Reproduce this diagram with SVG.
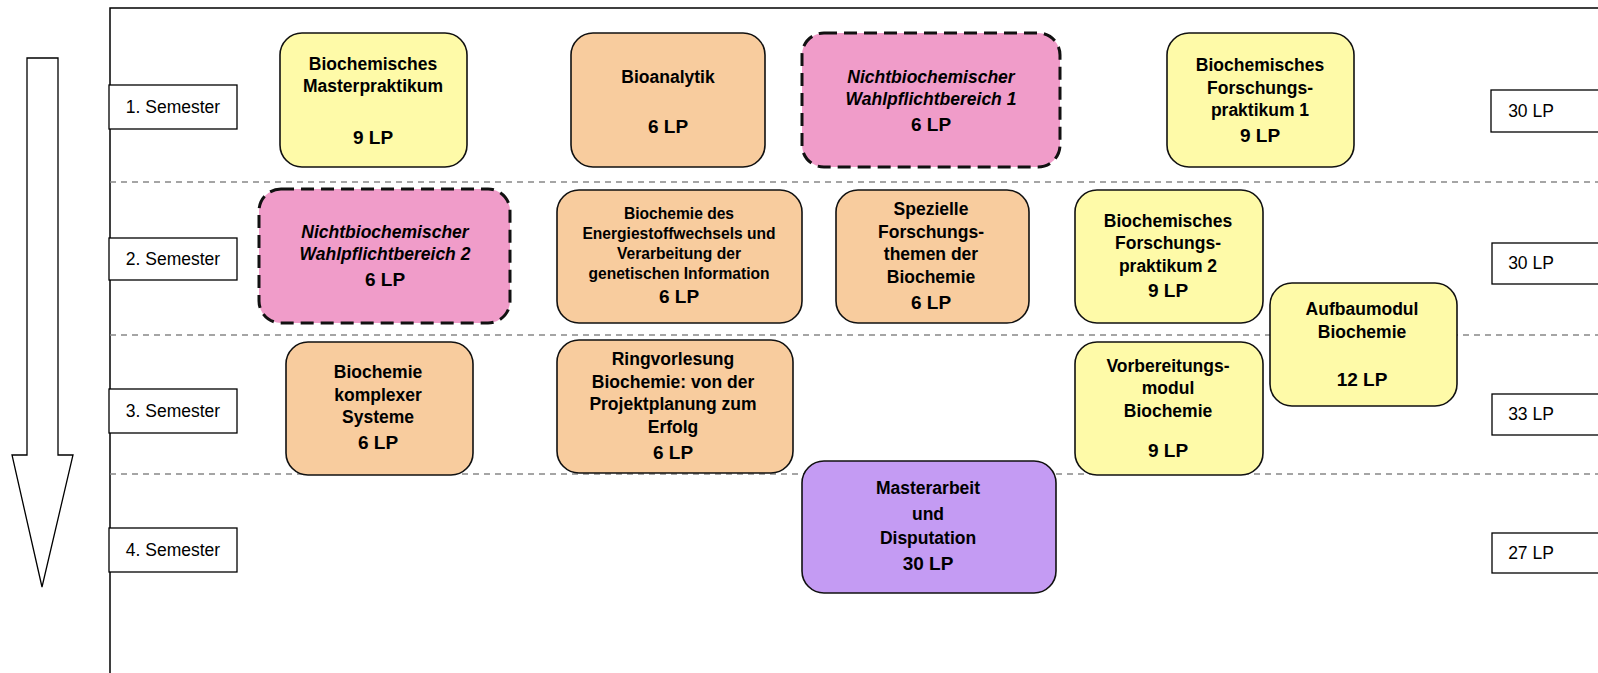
<svg xmlns="http://www.w3.org/2000/svg" width="1598" height="673" viewBox="0 0 1598 673">
<style>
text{font-family:"Liberation Sans",Arial,sans-serif;fill:#000;text-anchor:middle}
.t{font-size:17.5px;font-weight:bold}
.s{font-size:15.6px;font-weight:bold}
.lp{font-size:19px;font-weight:bold}
.i{font-style:italic}
.lbl{font-size:17.5px}
.box{stroke:#111;stroke-width:1.6}
.dbox{stroke:#111;stroke-width:3;stroke-dasharray:13 7}
.y{fill:#FEFAA8}
.o{fill:#F8CC9E}
.p{fill:#F09CC9}
.v{fill:#C49BF3}
.sep{stroke:#888;stroke-width:1.3;stroke-dasharray:6 5}
.frm{fill:#fff;stroke:#000;stroke-width:1.3}
</style>
<rect width="1598" height="673" fill="#fff"/>
<g id="frame">
<path d="M110 673 V8 H1598" fill="none" stroke="#000" stroke-width="1.5"/>
<polygon points="27,58 58,58 58,455 73,455 42,587 12,455 27,455" fill="#fff" stroke="#000" stroke-width="1.3"/>
</g>
<g id="separators">
<line class="sep" x1="110" y1="182" x2="1598" y2="182"/>
<line class="sep" x1="110" y1="335" x2="1598" y2="335"/>
<line class="sep" x1="110" y1="474" x2="1598" y2="474"/>
</g>
<g id="semester-labels">
<g id="sem1"><rect class="frm" x="109" y="85" width="128" height="44"/><text class="lbl" x="173" y="113">1. Semester</text></g>
<g id="sem2"><rect class="frm" x="109" y="238" width="128" height="42"/><text class="lbl" x="173" y="265">2. Semester</text></g>
<g id="sem3"><rect class="frm" x="109" y="389" width="128" height="44"/><text class="lbl" x="173" y="417">3. Semester</text></g>
<g id="sem4"><rect class="frm" x="109" y="528" width="128" height="44"/><text class="lbl" x="173" y="556">4. Semester</text></g>
</g>
<g id="lp-labels">
<g id="lp1"><rect class="frm" x="1491" y="90" width="120" height="42"/><text class="lbl" x="1531" y="117">30 LP</text></g>
<g id="lp2"><rect class="frm" x="1492" y="243" width="120" height="41"/><text class="lbl" x="1531" y="269">30 LP</text></g>
<g id="lp3"><rect class="frm" x="1492" y="394" width="120" height="41"/><text class="lbl" x="1531" y="420">33 LP</text></g>
<g id="lp4"><rect class="frm" x="1492" y="533" width="120" height="40"/><text class="lbl" x="1531" y="559">27 LP</text></g>
</g>
<g id="connectors"></g>
<g id="n-masterpraktikum">
<rect class="box y" x="280" y="33" width="187" height="134" rx="22"/>
<text class="t" x="373" y="70">Biochemisches</text>
<text class="t" x="373" y="92">Masterpraktikum</text>
<text class="lp" x="373" y="144">9 LP</text>
</g>
<g id="n-bioanalytik">
<rect class="box o" x="571" y="33" width="194" height="134" rx="22"/>
<text class="t" x="668" y="83">Bioanalytik</text>
<text class="lp" x="668" y="133">6 LP</text>
</g>
<g id="n-wpb1">
<rect class="dbox p" x="802" y="33" width="258" height="134" rx="22"/>
<text class="t i" x="931" y="83">Nichtbiochemischer</text>
<text class="t i" x="931" y="105">Wahlpflichtbereich 1</text>
<text class="lp" x="931" y="131">6 LP</text>
</g>
<g id="n-forschungspraktikum1">
<rect class="box y" x="1167" y="33" width="187" height="134" rx="22"/>
<text class="t" x="1260" y="71">Biochemisches</text>
<text class="t" x="1260" y="94">Forschungs-</text>
<text class="t" x="1260" y="116">praktikum 1</text>
<text class="lp" x="1260" y="142">9 LP</text>
</g>
<g id="n-wpb2">
<rect class="dbox p" x="259" y="189" width="251" height="134" rx="22"/>
<text class="t i" x="385" y="238">Nichtbiochemischer</text>
<text class="t i" x="385" y="260">Wahlpflichtbereich 2</text>
<text class="lp" x="385" y="286">6 LP</text>
</g>
<g id="n-energiestoffwechsel">
<rect class="box o" x="557" y="190" width="245" height="133" rx="22"/>
<text class="s" x="679" y="219">Biochemie des</text>
<text class="s" x="679" y="239">Energiestoffwechsels und</text>
<text class="s" x="679" y="259">Verarbeitung der</text>
<text class="s" x="679" y="279">genetischen Information</text>
<text class="lp" x="679" y="303">6 LP</text>
</g>
<g id="n-spezielle">
<rect class="box o" x="836" y="190" width="193" height="133" rx="22"/>
<text class="t" x="931" y="215">Spezielle</text>
<text class="t" x="931" y="238">Forschungs-</text>
<text class="t" x="931" y="260">themen der</text>
<text class="t" x="931" y="283">Biochemie</text>
<text class="lp" x="931" y="309">6 LP</text>
</g>
<g id="n-forschungspraktikum2">
<rect class="box y" x="1075" y="190" width="188" height="133" rx="22"/>
<text class="t" x="1168" y="227">Biochemisches</text>
<text class="t" x="1168" y="249">Forschungs-</text>
<text class="t" x="1168" y="272">praktikum 2</text>
<text class="lp" x="1168" y="297">9 LP</text>
</g>
<g id="n-aufbaumodul">
<rect class="box y" x="1270" y="283" width="187" height="123" rx="22"/>
<text class="t" x="1362" y="315">Aufbaumodul</text>
<text class="t" x="1362" y="338">Biochemie</text>
<text class="lp" x="1362" y="386">12 LP</text>
</g>
<g id="n-komplexe-systeme">
<rect class="box o" x="286" y="342" width="187" height="133" rx="22"/>
<text class="t" x="378" y="378">Biochemie</text>
<text class="t" x="378" y="401">komplexer</text>
<text class="t" x="378" y="423">Systeme</text>
<text class="lp" x="378" y="449">6 LP</text>
</g>
<g id="n-ringvorlesung">
<rect class="box o" x="557" y="340" width="236" height="133" rx="22"/>
<text class="t" x="673" y="365">Ringvorlesung</text>
<text class="t" x="673" y="388">Biochemie: von der</text>
<text class="t" x="673" y="410">Projektplanung zum</text>
<text class="t" x="673" y="433">Erfolg</text>
<text class="lp" x="673" y="459">6 LP</text>
</g>
<g id="n-vorbereitungsmodul">
<rect class="box y" x="1075" y="342" width="188" height="133" rx="22"/>
<text class="t" x="1168" y="372">Vorbereitungs-</text>
<text class="t" x="1168" y="394">modul</text>
<text class="t" x="1168" y="417">Biochemie</text>
<text class="lp" x="1168" y="457">9 LP</text>
</g>
<g id="n-masterarbeit">
<rect class="box v" x="802" y="461" width="254" height="132" rx="22"/>
<text class="t" x="928" y="494">Masterarbeit</text>
<text class="t" x="928" y="520">und</text>
<text class="t" x="928" y="544">Disputation</text>
<text class="lp" x="928" y="570">30 LP</text>
</g>
</svg>
